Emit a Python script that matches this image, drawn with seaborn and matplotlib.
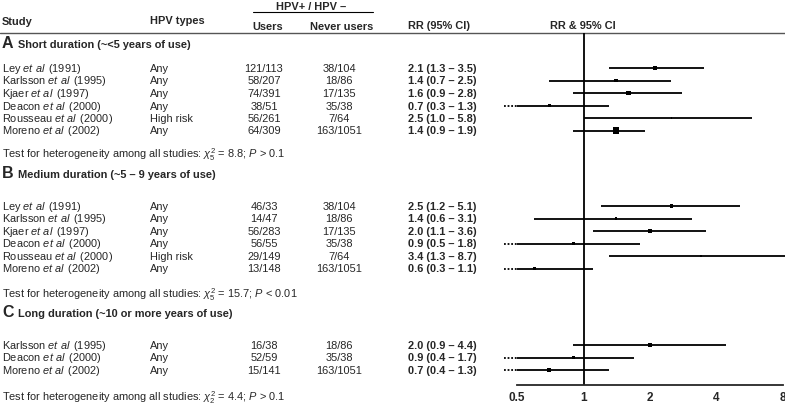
import matplotlib
matplotlib.use('Agg')
import matplotlib.pyplot as plt
import seaborn as sns
import pandas as pd

# ---- data ----
studies_a = ['Ley', 'Karlsson', 'Kjaer', 'Deacon', 'Rousseau', 'Moreno']
years_a = [1991, 1995, 1997, 2000, 2000, 2002]
types_a = ['Any', 'Any', 'Any', 'Any', 'High risk', 'Any']
users_a = ['121/113', '58/207', '74/391', '38/51', '56/261', '64/309']
never_a = ['38/104', '18/86', '17/135', '35/38', '7/64', '163/1051']
rr_a = [2.1, 1.4, 1.6, 0.7, 2.5, 1.4]
lo_a = [1.3, 0.7, 0.9, 0.3, 1.0, 0.9]
hi_a = [3.5, 2.5, 2.8, 1.3, 5.8, 1.9]
weight_a = [16, 12, 16, 8, 2, 36]

studies_b = ['Ley', 'Karlsson', 'Kjaer', 'Deacon', 'Rousseau', 'Moreno']
years_b = [1991, 1995, 1997, 2000, 2000, 2002]
types_b = ['Any', 'Any', 'Any', 'Any', 'High risk', 'Any']
users_b = ['46/33', '14/47', '56/283', '56/55', '29/149', '13/148']
never_b = ['38/104', '18/86', '17/135', '35/38', '7/64', '163/1051']
rr_b = [2.5, 1.4, 2.0, 0.9, 3.4, 0.6]
lo_b = [1.2, 0.6, 1.1, 0.5, 1.3, 0.3]
hi_b = [5.1, 3.1, 3.6, 1.8, 8.7, 1.1]
weight_b = [8, 5, 12, 12, 2, 12]

studies_c = ['Karlsson', 'Deacon', 'Moreno']
years_c = [1995, 2000, 2002]
types_c = ['Any', 'Any', 'Any']
users_c = ['16/38', '52/59', '15/141']
never_c = ['18/86', '35/38', '163/1051']
rr_c = [2.0, 0.9, 0.7]
lo_c = [0.9, 0.4, 0.4]
hi_c = [4.4, 1.7, 1.3]
weight_c = [12, 12, 12]

letters = ['A', 'B', 'C']
titles = ['Short duration (~<5 years of use)',
          'Medium duration (~5 \u2013 9 years of use)',
          'Long duration (~10 or more years of use)']
chi2 = [8.8, 15.7, 4.4]
chi_df = [5, 5, 2]
p_text = ['> 0.1', '< 0.01', '> 0.1']
ticks = [0.5, 1, 2, 4, 8]

# ---- layout (pixels from top) ----
heading_y = [44, 174, 313]
first_row_y = [69, 207, 346]
test_y = [155, 295, 398]
row_step = 12.5
W, H = 785, 406
axis_y, rule_y = 386, 34
x0_px, x8_px = 517, 783

sns.set_style('white')
plt.rcParams['font.family'] = ['Liberation Sans', 'DejaVu Sans']
plt.rcParams['mathtext.fontset'] = 'custom'
plt.rcParams['mathtext.rm'] = 'Liberation Sans'
plt.rcParams['mathtext.it'] = 'Liberation Sans:italic'
plt.rcParams['mathtext.bf'] = 'Liberation Sans:bold'

fig = plt.figure(figsize=(W / 100, H / 100), dpi=100)
tax = fig.add_axes([0, 0, 1, 1])
tax.set_xlim(0, W)
tax.set_ylim(H, 0)
tax.axis('off')

fs = 7.9
# header
tax.text(2, 22, 'Study', fontsize=fs, fontweight='bold', va='center')
tax.text(150, 21, 'HPV types', fontsize=fs, fontweight='bold', va='center')
tax.text(311, 7, 'HPV+ / HPV \u2013', fontsize=fs, fontweight='bold', va='center', ha='center')
tax.plot([253, 373], [13, 13], color='black', lw=0.8)
tax.text(268, 27, 'Users', fontsize=fs, fontweight='bold', va='center', ha='center')
tax.text(342, 27, 'Never users', fontsize=fs, fontweight='bold', va='center', ha='center')
tax.text(408, 26, 'RR (95% CI)', fontsize=fs, fontweight='bold', va='center')
tax.text(583, 26, 'RR & 95% CI', fontsize=fs, fontweight='bold', va='center', ha='center')
tax.plot([0, W], [rule_y, rule_y], color='#555555', lw=1)

# forest axes
fax = fig.add_axes([x0_px / W, (H - axis_y) / H, (x8_px - x0_px) / W, (axis_y - rule_y) / H])
fax.patch.set_alpha(0)
fax.set_xscale('log', base=2)
fax.set_xlim(0.5, 8)
fax.set_ylim(axis_y, rule_y)
for s in ['top', 'left', 'right']:
    fax.spines[s].set_visible(False)
fax.spines['bottom'].set_linewidth(1.3)
fax.spines['bottom'].set_bounds(0.5, 8)
fax.set_xticks(ticks)
fax.set_xticklabels([f'{t:g}' for t in ticks], fontweight='bold', fontsize=8.5)
fax.xaxis.set_minor_locator(matplotlib.ticker.NullLocator())
fax.tick_params(axis='x', direction='in', length=5, width=1.3, pad=4)
fax.set_yticks([])
fax.axvline(1, color='black', lw=1.3)

sections = [
    (studies_a, years_a, types_a, users_a, never_a, rr_a, lo_a, hi_a, weight_a),
    (studies_b, years_b, types_b, users_b, never_b, rr_b, lo_b, hi_b, weight_b),
    (studies_c, years_c, types_c, users_c, never_c, rr_c, lo_c, hi_c, weight_c),
]

stub = 2 ** -0.2
for k, (names, years, types, users, never, rr, lo, hi, wt) in enumerate(sections):
    tax.text(2, heading_y[k], letters[k], fontsize=11.5, fontweight='bold', va='center')
    tax.text(18, heading_y[k] + 1, titles[k], fontsize=fs, fontweight='bold', va='center')
    ys = [first_row_y[k] + i * row_step for i in range(len(names))]
    for i, y in enumerate(ys):
        tax.text(2, y, f'{names[i]} $\\mathit{{et\\ al}}\\,$ ({years[i]})', fontsize=fs, va='center')
        tax.text(150, y, types[i], fontsize=fs, va='center')
        tax.text(264, y, users[i], fontsize=fs, va='center', ha='center')
        tax.text(339, y, never[i], fontsize=fs, va='center', ha='center')
        tax.text(408, y, f'{rr[i]:.1f} ({lo[i]:.1f} \u2013 {hi[i]:.1f})',
                 fontsize=fs, fontweight='bold', va='center')
        left = max(lo[i], 0.5)
        fax.plot([left, hi[i]], [y, y], color='black', lw=1.3, clip_on=False,
                 solid_capstyle='butt')
        if lo[i] <= 0.5:
            fax.plot([0.5 * stub, 0.5], [y, y], color='black', lw=1.3,
                     linestyle=(0, (1, 1)), clip_on=False)
    df = pd.DataFrame({'rr': rr, 'y': ys, 'w': wt})
    sns.scatterplot(data=df, x='rr', y='y', size='w', sizes=(0, 0.6 * 36),
                    size_norm=(0, 36), marker='s', color='black', edgecolor='black',
                    linewidth=0, legend=False, ax=fax, zorder=3, clip_on=False)
    tax.text(2, test_y[k],
             f'Test for heterogeneity among all studies: $\\chi^2_{{{chi_df[k]}}}$'
             f' = {chi2[k]:.1f}; $\\mathit{{P}}$ {p_text[k]}', fontsize=fs, va='center')

fax.set_xlabel('')
fax.set_ylabel('')
fig.savefig('out.png', dpi=100)
